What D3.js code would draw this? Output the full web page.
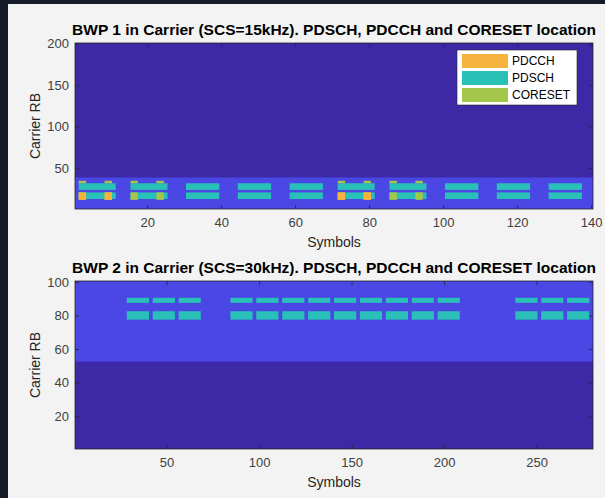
<!DOCTYPE html>
<html>
<head>
<meta charset="utf-8">
<script src="https://cdn.jsdelivr.net/npm/d3@7"></script>
<style>
  body { margin: 0; background: #141a28; }
  text { font-family: "Liberation Sans", Arial, sans-serif; }
</style>
</head>
<body>
<div class="chart"></div>
<script>
(function() {
  var symbolsPerSlot = 14;

  // BWP 1 (SCS=15kHz)
  var bwp1Symbols = 140, bwp1RBs = 200;
  var bwp1Band = [1, 38];
  var bwp1PdschSlots = [0, 1, 2, 3, 4, 5, 6, 7, 8, 9];
  var bwp1PdschSym = [2, 10];          // symbols inside the slot
  var bwp1PdschSymCoreset = [1, 10];   // slots that carry a CORESET
  var bwp1PdschRB = [[13, 20], [24, 31]];
  var bwp1CoresetSlots = [0, 1, 5, 6];
  var bwp1PdcchSlots = [0, 5];
  var bwp1CoresetSym = [[1, 2], [8, 9]];
  var bwp1CoresetRB = [[12, 20], [32, 34]];
  var bwp1PdcchRB = [[12, 20]];
  var bwp1XTicks = [20, 40, 60, 80, 100, 120, 140];
  var bwp1YTicks = [50, 100, 150, 200];

  // BWP 2 (SCS=30kHz)
  var bwp2Symbols = 280, bwp2RBs = 100;
  var bwp2Band = [53, 100];
  var bwp2PdschSlots = [2, 3, 4, 6, 7, 8, 9, 10, 11, 12, 13, 14, 17, 18, 19];
  var bwp2PdschSym = [0, 11];
  var bwp2PdschRB = [[78, 82], [88, 90]];
  var bwp2XTicks = [50, 100, 150, 200, 250];
  var bwp2YTicks = [20, 40, 60, 80, 100];

  var legendLabels = ["PDCCH", "PDSCH", "CORESET"];

  // 0 carrier, 1 BWP, 2 PDSCH, 3 CORESET, 4 PDCCH
  var colors = ["#3d29a6", "#4a47e4", "#29c0b8", "#a2c74a", "#f5b33e"];
  var legendColors = [colors[4], colors[2], colors[3]];

  var width = 605, height = 498;
  var left = 75, right = 593;

  var svg = d3.select(".chart").append("svg")
    .attr("width", width)
    .attr("height", height);

  svg.append("rect").attr("width", width).attr("height", height).attr("fill", "#141a28");
  svg.append("rect").attr("x", 8).attr("y", 4)
    .attr("width", width - 8).attr("height", height - 4).attr("fill", "#f3f3f3");

  function cells(bwp) {
    var list = [];
    list.push({s0: 1, s1: bwp.symbols, r0: 1, r1: bwp.rbs, v: 0});
    list.push({s0: 1, s1: bwp.symbols, r0: bwp.band[0], r1: bwp.band[1], v: 1});
    bwp.pdschSlots.forEach(function(slot) {
      var sym = bwp.coresetSlots.indexOf(slot) >= 0 ? bwp.pdschSymCoreset : bwp.pdschSym;
      var base = slot * symbolsPerSlot + 1;
      bwp.pdschRB.forEach(function(rb) {
        list.push({s0: base + sym[0], s1: base + sym[1], r0: rb[0], r1: rb[1], v: 2});
      });
    });
    bwp.coresetSlots.forEach(function(slot) {
      var base = slot * symbolsPerSlot + 1;
      var pdcch = bwp.pdcchSlots.indexOf(slot) >= 0;
      bwp.coresetSym.forEach(function(sym) {
        bwp.coresetRB.forEach(function(rb) {
          list.push({s0: base + sym[0], s1: base + sym[1], r0: rb[0], r1: rb[1], v: 3});
        });
        if (pdcch) {
          bwp.pdcchRB.forEach(function(rb) {
            list.push({s0: base + sym[0], s1: base + sym[1], r0: rb[0], r1: rb[1], v: 4});
          });
        }
      });
    });
    return list;
  }

  function drawPanel(bwp) {
    var x = d3.scaleLinear().domain([0.5, bwp.symbols + 0.5]).range([left, right]);
    var y = d3.scaleLinear().domain([0.5, bwp.rbs + 0.5]).range([bwp.bottom, bwp.top]);
    var g = svg.append("g");

    g.selectAll("rect.cell")
      .data(cells(bwp))
      .enter().append("rect")
        .attr("class", "cell")
        .attr("x", function(d) { return x(d.s0 - 0.5); })
        .attr("width", function(d) { return x(d.s1 + 0.5) - x(d.s0 - 0.5); })
        .attr("y", function(d) { return y(d.r1 + 0.5); })
        .attr("height", function(d) { return y(d.r0 - 0.5) - y(d.r1 + 0.5); })
        .attr("fill", function(d) { return colors[d.v]; });

    function styleAxis(a, labels) {
      a.select(".domain").remove();
      a.selectAll("line").attr("stroke", "#262626").attr("stroke-width", 0.8);
      a.selectAll("text").attr("fill", "#404040").style("font-size", "13px");
      if (!labels) a.selectAll("text").remove();
    }

    g.append("g").attr("transform", "translate(0," + bwp.bottom + ")")
      .call(d3.axisBottom(x).tickValues(bwp.xTicks).tickSizeInner(-4).tickSizeOuter(0).tickPadding(9))
      .call(styleAxis, true);
    g.append("g").attr("transform", "translate(0," + bwp.top + ")")
      .call(d3.axisTop(x).tickValues(bwp.xTicks).tickSizeInner(-4).tickSizeOuter(0))
      .call(styleAxis, false);
    g.append("g").attr("transform", "translate(" + left + ",0)")
      .call(d3.axisLeft(y).tickValues(bwp.yTicks).tickSizeInner(-4).tickSizeOuter(0).tickPadding(6))
      .call(styleAxis, true);
    g.append("g").attr("transform", "translate(" + right + ",0)")
      .call(d3.axisRight(y).tickValues(bwp.yTicks).tickSizeInner(-4).tickSizeOuter(0))
      .call(styleAxis, false);

    g.append("rect")
      .attr("x", left).attr("y", bwp.top)
      .attr("width", right - left).attr("height", bwp.bottom - bwp.top)
      .attr("fill", "none").attr("stroke", "#262626").attr("stroke-width", 0.8);

    g.append("text")
      .attr("x", (left + right) / 2).attr("y", bwp.top - 8)
      .attr("text-anchor", "middle")
      .style("font-size", "15.5px").style("font-weight", "bold").attr("fill", "#000")
      .text(bwp.title);

    g.append("text")
      .attr("x", (left + right) / 2).attr("y", bwp.bottom + 38)
      .attr("text-anchor", "middle")
      .style("font-size", "14px").attr("fill", "#262626")
      .text("Symbols");

    g.append("text")
      .attr("transform", "translate(40," + ((bwp.top + bwp.bottom) / 2) + ") rotate(-90)")
      .attr("text-anchor", "middle")
      .style("font-size", "14px").attr("fill", "#262626")
      .text("Carrier RB");

    return g;
  }

  var g1 = drawPanel({
    title: "BWP 1 in Carrier (SCS=15kHz). PDSCH, PDCCH and CORESET location",
    top: 43, bottom: 209,
    symbols: bwp1Symbols, rbs: bwp1RBs, band: bwp1Band,
    pdschSlots: bwp1PdschSlots, pdschSym: bwp1PdschSym, pdschSymCoreset: bwp1PdschSymCoreset,
    pdschRB: bwp1PdschRB,
    coresetSlots: bwp1CoresetSlots, pdcchSlots: bwp1PdcchSlots,
    coresetSym: bwp1CoresetSym, coresetRB: bwp1CoresetRB, pdcchRB: bwp1PdcchRB,
    xTicks: bwp1XTicks, yTicks: bwp1YTicks
  });

  drawPanel({
    title: "BWP 2 in Carrier (SCS=30kHz). PDSCH, PDCCH and CORESET location",
    top: 281, bottom: 449,
    symbols: bwp2Symbols, rbs: bwp2RBs, band: bwp2Band,
    pdschSlots: bwp2PdschSlots, pdschSym: bwp2PdschSym, pdschSymCoreset: bwp2PdschSym,
    pdschRB: bwp2PdschRB,
    coresetSlots: [], pdcchSlots: [], coresetSym: [], coresetRB: [], pdcchRB: [],
    xTicks: bwp2XTicks, yTicks: bwp2YTicks
  });

  // Legend
  var lg = g1.append("g").attr("transform", "translate(457,50)");
  lg.append("rect").attr("width", 120).attr("height", 55)
    .attr("fill", "#fff").attr("stroke", "#262626").attr("stroke-width", 0.6);
  var item = lg.selectAll("g.item")
    .data(legendLabels)
    .enter().append("g")
      .attr("class", "item")
      .attr("transform", function(d, i) { return "translate(0," + (11 + i * 17) + ")"; });
  item.append("rect")
    .attr("x", 5).attr("y", -7).attr("width", 46).attr("height", 14)
    .attr("fill", function(d, i) { return legendColors[i]; });
  item.append("text")
    .attr("x", 55).attr("dy", "0.35em")
    .style("font-size", "12px").attr("fill", "#000")
    .text(function(d) { return d; });
})();
</script>
</body>
</html>
